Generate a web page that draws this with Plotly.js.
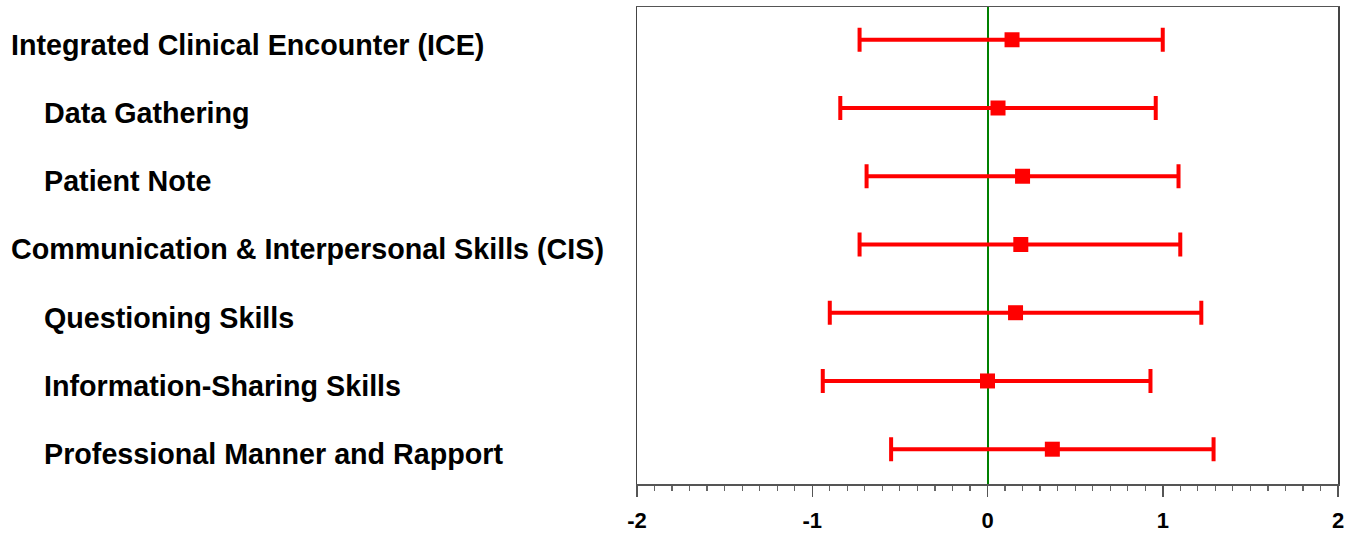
<!DOCTYPE html>
<html>
<head>
<meta charset="utf-8">
<script src="https://cdn.plot.ly/plotly-3.0.1.min.js"></script>
<style>html,body{margin:0;padding:0;background:#fff;}#chart{width:1354px;height:533px;}</style>
</head>
<body>
<div id="chart"></div>
<script>
var labels = [
  "Integrated Clinical Encounter (ICE)",
  "Data Gathering",
  "Patient Note",
  "Communication & Interpersonal Skills (CIS)",
  "Questioning Skills",
  "Information-Sharing Skills",
  "Professional Manner and Rapport"
];
var levels = [0, 1, 1, 0, 1, 1, 1];
var means = [0.14, 0.06, 0.20, 0.19, 0.16, 0.00, 0.37];
var lower = [-0.73, -0.84, -0.69, -0.73, -0.90, -0.94, -0.55];
var upper = [1.00, 0.96, 1.09, 1.10, 1.22, 0.93, 1.29];
var xTicks = [-2, -1, 0, 1, 2];

var rows = labels.map(function(_, i){ return i; });
var plus = means.map(function(m, i){ return upper[i] - m; });
var minus = means.map(function(m, i){ return m - lower[i]; });

var trace = {
  type: 'scatter',
  mode: 'markers',
  x: means,
  y: rows,
  marker: {symbol: 'square', size: 15, color: '#ff0000'},
  error_x: {type: 'data', symmetric: false, array: plus, arrayminus: minus,
            color: '#ff0000', thickness: 4, width: 12},
  hoverinfo: 'x+y'
};

var fontFam = '"Liberation Sans", Arial, sans-serif';
var W = 1354, ml = 637, mr = 16;
var pw = W - ml - mr;
var annotations = labels.map(function(t, i){
  var px = levels[i] ? 43 : 10;
  return {
    xref: 'paper', yref: 'y', x: (px - ml - 1) / pw, y: rows[i],
    xanchor: 'left', yanchor: 'middle', showarrow: false, yshift: -5,
    text: '<b>' + t.replace(/&/g, '&amp;') + '</b>',
    font: {family: fontFam, size: 28.7, color: '#000'}
  };
});

var layout = {
  width: 1354, height: 533,
  margin: {l: ml, r: mr, t: 7, b: 49},
  paper_bgcolor: '#fff', plot_bgcolor: '#fff',
  showlegend: false,
  xaxis: {
    range: [-2, 2], tickvals: xTicks, ticktext: xTicks.map(String),
    ticks: 'outside', ticklen: 11, tickwidth: 1.5, tickcolor: '#555',
    minor: {dtick: 0.1, tick0: 0, ticks: 'outside', ticklen: 5, tickwidth: 1.2, tickcolor: '#666', showgrid: false},
    showgrid: false, zeroline: true, zerolinecolor: '#008000', zerolinewidth: 2,
    showline: true, linecolor: '#555', linewidth: 1.5, mirror: true,
    ticklabelstandoff: 5,
    tickfont: {family: fontFam, size: 22, color: '#000', weight: 'bold'}
  },
  yaxis: {
    range: [6.51, -0.48], showticklabels: false, ticks: '', showgrid: false, zeroline: false,
    showline: true, linecolor: '#444', linewidth: 1.5, mirror: true
  },
  annotations: annotations
};

Plotly.newPlot('chart', [trace], layout, {displayModeBar: false, staticPlot: true});
</script>
</body>
</html>
